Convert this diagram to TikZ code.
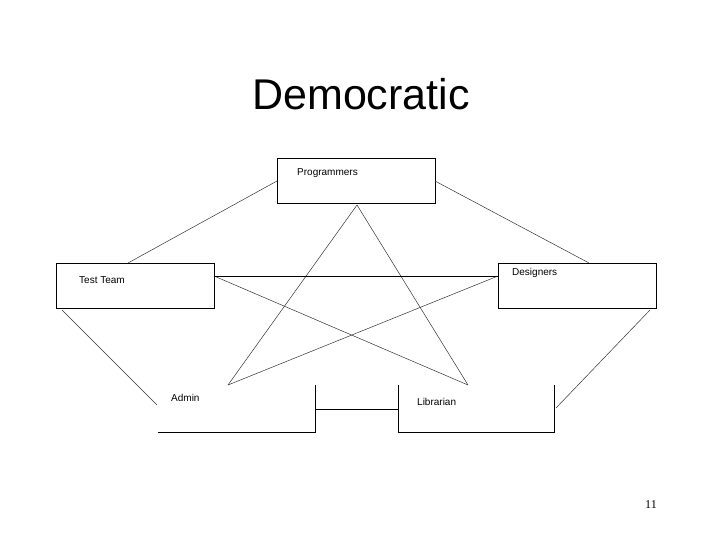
\documentclass[tikz,border=0pt]{standalone}
\usepackage{fontspec}
\setmainfont{Liberation Sans}
\newfontfamily\serif{Liberation Serif}
\begin{document}
\begin{tikzpicture}[x=1pt,y=-1pt,
  box/.style={draw,line width=0.8pt},
  lbl/.style={anchor=west,font=\fontsize{10}{11}\selectfont,inner sep=0pt},
  con/.style={line width=0.5pt,black!80}]
\useasboundingbox (0,0) rectangle (720,540);
\node (title) at (361,94) {\fontsize{43}{48}\selectfont Democratic};
\node (pg) at (651,505) {\serif\fontsize{12}{14}\selectfont 11};
\draw[box] (277,158) rectangle (435,203);
\draw[box] (56,263) rectangle (214,308);
\draw[box] (498,263) rectangle (656,308);
\draw[box] (158,432) -- (315,432) -- (315,385);
\draw[box] (398,385) -- (398,432) -- (554,432) -- (554,385);
\draw[box] (315,409) -- (398,409);
\node[lbl] (p) at (297,173) {Programmers};
\node[lbl] (t) at (79,280) {Test Team};
\node[lbl] (d) at (512,273) {Designers};
\node[lbl] (a) at (171,398) {Admin};
\node[lbl] (l) at (417,402) {Librarian};
\coordinate (pl) at (277,181); \coordinate (pr) at (435,181);
\coordinate (pb) at (357,205);
\coordinate (tt) at (128,263); \coordinate (tr) at (214,276); \coordinate (tb) at (62,310);
\coordinate (dt) at (589,263); \coordinate (dl) at (498,276); \coordinate (db) at (650,310);
\coordinate (at) at (228,385); \coordinate (al) at (157,405);
\coordinate (lt) at (468,385); \coordinate (lr) at (556,408);
\draw[con] (pl) -- (tt);
\draw[con] (pr) -- (dt);
\draw[con] (tb) -- (al);
\draw[con] (db) -- (lr);
\draw[con] (pb) -- (at);
\draw[con] (pb) -- (lt);
\draw[con] (tr) -- (lt);
\draw[con] (dl) -- (at);
\draw[box] (tr) -- (dl);
\end{tikzpicture}
\end{document}
